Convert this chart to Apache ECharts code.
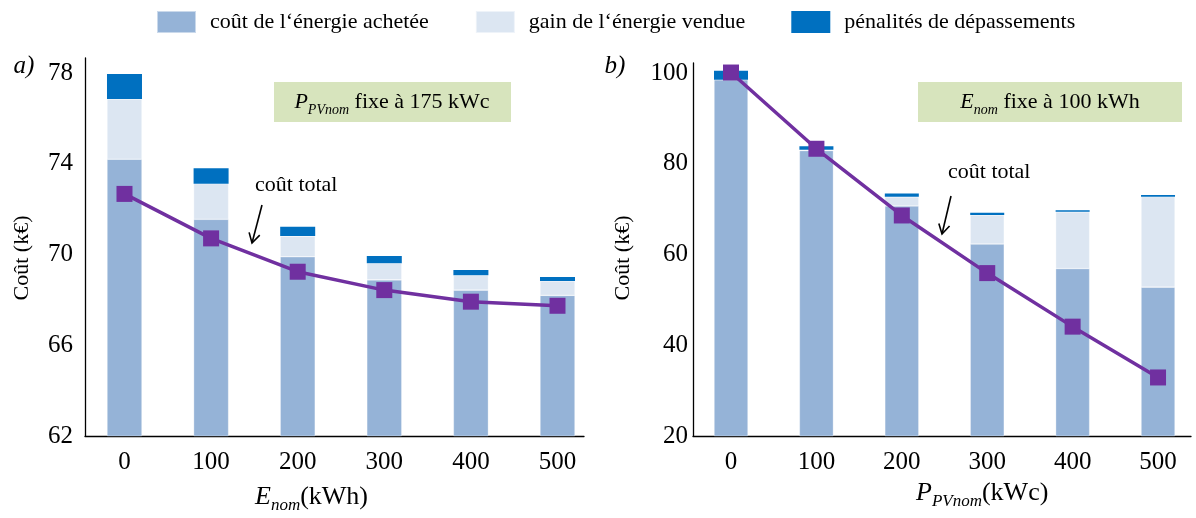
<!DOCTYPE html>
<html>
<head>
<meta charset="utf-8">
<script src="https://cdn.jsdelivr.net/npm/echarts@6/dist/echarts.min.js"></script>
<style>
html,body{margin:0;padding:0;background:#fff;}
#chart{width:1196px;height:518px;}
</style>
</head>
<body>
<div id="chart"></div>
<script>
// ---- data ----
const categories = [0, 100, 200, 300, 400, 500];
// a) P_PVnom fixed at 175 kWc, x = E_nom (kWh)
const leftBought  = [74.2, 71.55, 69.9, 68.88, 68.43, 68.2];
const leftGain    = [2.65, 1.57, 0.91, 0.73, 0.65, 0.63];
const leftPenalty = [1.11, 0.68, 0.41, 0.32, 0.24, 0.18];
const leftTotal   = [72.67, 70.71, 69.24, 68.43, 67.92, 67.74];
// b) E_nom fixed at 100 kWh, x = P_PVnom (kWc)
const rightBought  = [98.5, 82.9, 70.7, 62.3, 56.9, 52.8];
const rightGain    = [0, 0.2, 2.0, 6.4, 12.5, 19.95];
const rightPenalty = [2.0, 0.75, 0.75, 0.5, 0.37, 0.37];
const rightTotal   = [100.1, 83.3, 68.6, 55.9, 44.1, 32.9];
const leftYTicks = [62, 66, 70, 74, 78];
const rightYTicks = [20, 40, 60, 80, 100];

const NAME_BOUGHT = 'coût de l‘énergie achetée';
const NAME_GAIN = 'gain de l‘énergie vendue';
const NAME_PEN = 'pénalités de dépassements';

const FONT = 'Liberation Serif';
const C_BOUGHT = '#95B3D7', C_GAIN = '#DCE6F2', C_PEN = '#0070C0', C_LINE = '#7030A0';

// rows are [value, x] so that stacking happens on the value dimension
const rows = (xs, ys) => xs.map((x, i) => [ys[i], x]);

function xAxisCfg(idx, min, max) {
  return {
    type: 'value', gridIndex: idx, min: min, max: max,
    axisLine: { show: true, onZero: false, lineStyle: { color: '#000', width: 1.3 } },
    axisTick: { show: false },
    splitLine: { show: false },
    axisLabel: { customValues: categories, fontFamily: FONT, fontSize: 25, color: '#000', margin: 14 }
  };
}
function yAxisCfg(idx, min, max, interval, ticks, margin) {
  return {
    type: 'value', gridIndex: idx, min: min, max: max, interval: interval,
    axisLine: { show: true, onZero: false, lineStyle: { color: '#000', width: 1.3 } },
    axisTick: { show: false },
    splitLine: { show: false },
    axisLabel: {
      fontFamily: FONT, fontSize: 25, color: '#000', margin: margin,
      formatter: v => (ticks.indexOf(Math.round(v * 1000) / 1000) >= 0 ? String(v) : '')
    }
  };
}
function barSeries(name, axis, stack, xs, ys, color, bw, border) {
  return {
    name: name, type: 'bar', xAxisIndex: axis, yAxisIndex: axis, stack: stack,
    barWidth: bw, data: rows(xs, ys), encode: { x: 1, y: 0 },
    itemStyle: { color: color, borderColor: 'rgba(255,255,255,0.5)', borderWidth: border },
    emphasis: { disabled: true }, z: 2
  };
}
function lineSeries(axis, xs, ys) {
  return {
    name: 'coût total', type: 'line', xAxisIndex: axis, yAxisIndex: axis,
    data: rows(xs, ys), encode: { x: 1, y: 0 }, symbol: 'rect', symbolSize: 16,
    lineStyle: { color: C_LINE, width: 3.5 }, itemStyle: { color: C_LINE },
    z: 5, emphasis: { disabled: true }
  };
}
function arrow(x1, y1, x2, y2) {
  const dx = x2 - x1, dy = y2 - y1, L = Math.hypot(dx, dy);
  const ux = dx / L, uy = dy / L, a = Math.PI / 6, h = 11;
  const bx = -ux, by = -uy;
  const r1 = [bx * Math.cos(a) - by * Math.sin(a), bx * Math.sin(a) + by * Math.cos(a)];
  const r2 = [bx * Math.cos(-a) - by * Math.sin(-a), bx * Math.sin(-a) + by * Math.cos(-a)];
  const st = { stroke: '#000', lineWidth: 1.6, fill: null };
  return [
    { type: 'line', shape: { x1: x1, y1: y1, x2: x2, y2: y2 }, style: st, z: 20 },
    { type: 'polyline', shape: { points: [[x2 + r1[0] * h, y2 + r1[1] * h], [x2, y2], [x2 + r2[0] * h, y2 + r2[1] * h]] }, style: st, z: 20 }
  ];
}
const subRich = {
  i: { fontFamily: FONT, fontStyle: 'italic', fontSize: 22, color: '#000' },
  s: { fontFamily: FONT, fontStyle: 'italic', fontSize: 14, color: '#000', padding: [16, 0, 0, 0] },
  n: { fontFamily: FONT, fontSize: 22, color: '#000' }
};
const axRich = {
  i: { fontFamily: FONT, fontStyle: 'italic', fontSize: 26, color: '#000' },
  s: { fontFamily: FONT, fontStyle: 'italic', fontSize: 17, color: '#000', padding: [18, 0, 0, 0] },
  n: { fontFamily: FONT, fontSize: 26, color: '#000' }
};

const chart = echarts.init(document.getElementById('chart'), null, { renderer: 'canvas' });
const option = {
  animation: false,
  backgroundColor: '#fff',
  legend: {
    data: [NAME_BOUGHT, NAME_GAIN, NAME_PEN],
    left: 156, top: 10, padding: 0, itemWidth: 39, itemHeight: 22, itemGap: 46,
    icon: 'rect', selectedMode: false,
    textStyle: { fontFamily: FONT, fontSize: 22, color: '#000', padding: [0, 0, 0, 9] }
  },
  grid: [
    { left: 85, right: 1196 - 584, top: 58, bottom: 518 - 436 },
    { left: 693, right: 5, top: 63, bottom: 518 - 436 }
  ],
  xAxis: [xAxisCfg(0, -45.6, 530.6), xAxisCfg(1, -44.5, 538.6)],
  yAxis: [yAxisCfg(0, 62, 78.66, 2, leftYTicks, 12), yAxisCfg(1, 20, 102.2, 20, rightYTicks, 5)],
  series: [
    barSeries(NAME_BOUGHT, 0, 'a', categories, leftBought, C_BOUGHT, 35, 0.6),
    barSeries(NAME_GAIN, 0, 'a', categories, leftGain, C_GAIN, 35, 0.6),
    barSeries(NAME_PEN, 0, 'a', categories, leftPenalty, C_PEN, 35, 0),
    lineSeries(0, categories, leftTotal),
    barSeries(NAME_BOUGHT, 1, 'b', categories, rightBought, C_BOUGHT, 34, 0.6),
    barSeries(NAME_GAIN, 1, 'b', categories, rightGain, C_GAIN, 34, 0.6),
    barSeries(NAME_PEN, 1, 'b', categories, rightPenalty, C_PEN, 34, 0),
    lineSeries(1, categories, rightTotal)
  ],
  graphic: [
    { type: 'text', x: 24, y: 66, style: { text: 'a)', fontFamily: FONT, fontStyle: 'italic', fontSize: 25, fill: '#000', align: 'center', verticalAlign: 'middle' } },
    { type: 'text', x: 615, y: 66, style: { text: 'b)', fontFamily: FONT, fontStyle: 'italic', fontSize: 25, fill: '#000', align: 'center', verticalAlign: 'middle' } },
    { type: 'text', x: 22, y: 258, rotation: Math.PI / 2, style: { text: 'Coût (k€)', fontFamily: FONT, fontSize: 22, fill: '#000', align: 'center', verticalAlign: 'middle' } },
    { type: 'text', x: 623, y: 258, rotation: Math.PI / 2, style: { text: 'Coût (k€)', fontFamily: FONT, fontSize: 22, fill: '#000', align: 'center', verticalAlign: 'middle' } },
    { type: 'rect', shape: { x: 274, y: 82, width: 237, height: 40 }, style: { fill: '#D7E4BD' }, z: 10 },
    { type: 'text', x: 392, y: 102, z: 11, style: { text: '{i|P}{s|PVnom}{n| fixe à 175 kWc}', rich: subRich, align: 'center', verticalAlign: 'middle' } },
    { type: 'rect', shape: { x: 918, y: 82, width: 264, height: 40 }, style: { fill: '#D7E4BD' }, z: 10 },
    { type: 'text', x: 1050, y: 102, z: 11, style: { text: '{i|E}{s|nom}{n| fixe à 100 kWh}', rich: subRich, align: 'center', verticalAlign: 'middle' } },
    { type: 'text', x: 255, y: 185, z: 11, style: { text: 'coût total', fontFamily: FONT, fontSize: 22, fill: '#000', align: 'left', verticalAlign: 'middle' } },
    { type: 'text', x: 948, y: 172, z: 11, style: { text: 'coût total', fontFamily: FONT, fontSize: 22, fill: '#000', align: 'left', verticalAlign: 'middle' } },
    ...arrow(262, 205, 252, 243),
    ...arrow(951, 196, 942, 234),
    { type: 'text', x: 255, y: 497, z: 11, style: { text: '{i|E}{s|nom}{n|(kWh)}', rich: axRich, align: 'left', verticalAlign: 'middle' } },
    { type: 'text', x: 916, y: 493, z: 11, style: { text: '{i|P}{s|PVnom}{n|(kWc)}', rich: axRich, align: 'left', verticalAlign: 'middle' } }
  ]
};
chart.setOption(option);
</script>
</body>
</html>
